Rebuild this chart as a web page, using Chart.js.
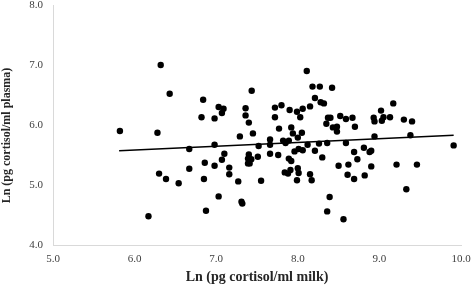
<!DOCTYPE html>
<html>
<head>
<meta charset="utf-8">
<script src="https://cdn.jsdelivr.net/npm/chart.js@4.4.1/dist/chart.umd.min.js"></script>
<style>
  html, body { margin: 0; padding: 0; background: #fff; }
  #wrap { width: 471px; height: 290px; }
</style>
</head>
<body>
<div id="wrap"><canvas id="chart" width="471" height="290"></canvas></div>
<script>
// ln cortisol in milk (x) vs plasma (y)
const milkX = [
  6.32, 6.43, 5.82, 6.28, 6.30, 6.385, 6.17,
  7.435, 6.84, 7.03, 7.09, 7.07, 6.82, 6.98, 7.36, 7.36, 7.40, 7.29, 7.45,
  6.98, 6.67, 7.10, 7.07, 6.86, 6.98, 7.16, 7.16, 6.67, 7.40, 7.39, 7.43, 7.39, 7.41,
  6.54, 6.85, 7.27, 7.03, 7.31, 7.32, 6.875,
  8.11, 8.18, 8.27, 8.42, 8.21, 8.28, 8.32, 8.15, 7.72, 7.80, 7.90, 7.99, 8.06,
  8.03, 7.72, 8.37, 8.40, 8.35, 8.52, 7.77, 7.92, 7.94, 8.05, 8.00, 8.43, 8.48, 8.48,
  7.66, 7.82, 7.85, 7.89, 7.52, 7.66, 8.12, 8.26, 8.36, 8.01, 8.06, 7.96, 8.21,
  7.51, 7.66, 7.76, 7.89, 7.92, 8.30, 8.50, 7.84, 7.88, 7.91, 8.00, 8.01, 8.15,
  7.55, 7.99, 8.17, 8.39, 8.36,
  9.17, 9.02, 8.59, 8.67, 8.93, 8.94, 9.05, 9.03, 9.13, 9.30, 9.40, 8.70, 8.94, 9.38,
  8.59, 8.81, 8.88, 8.90, 8.69, 8.73, 8.62, 8.90, 9.21, 9.46, 8.61, 8.69, 8.82, 9.33, 8.56,
  9.91
];
const plasmaY = [
  7.00, 6.52, 5.90, 5.87, 5.19, 5.10, 4.48,
  6.57, 6.42, 6.30, 6.27, 6.20, 6.13, 6.11, 6.28, 6.16, 6.04, 5.81, 5.86,
  5.67, 5.60, 5.52, 5.42, 5.37, 5.32, 5.29, 5.18, 5.27, 5.51, 5.44, 5.43, 5.36, 5.36,
  5.03, 5.10, 5.06, 4.81, 4.72, 4.69, 4.57,
  6.90, 6.64, 6.64, 6.62, 6.45, 6.38, 6.36, 6.31, 6.29, 6.33, 6.25, 6.22, 6.27,
  6.13, 6.13, 6.12, 6.12, 6.02, 6.15, 5.94, 5.96, 5.86, 5.87, 5.79, 5.96, 5.97, 5.89,
  5.76, 5.74, 5.70, 5.74, 5.65, 5.67, 5.67, 5.69, 5.70, 5.60, 5.58, 5.56, 5.57,
  5.47, 5.52, 5.50, 5.44, 5.40, 5.46, 5.32, 5.21, 5.19, 5.25, 5.28, 5.20, 5.18,
  5.07, 5.08, 5.08, 4.80, 4.56,
  6.36, 6.24, 6.10, 6.12, 6.12, 6.06, 6.13, 6.07, 6.13, 6.09, 6.06, 5.97, 5.81, 5.83,
  5.70, 5.62, 5.55, 5.57, 5.55, 5.43, 5.34, 5.31, 5.34, 5.34, 5.17, 5.10, 5.16, 4.93, 4.43,
  5.66
];
// trend line ends as drawn in the figure
const trendX = [5.81, 9.91];
const trendY = [5.57, 5.83];

const xTitle = "Ln (pg cortisol/ml milk)";
// trailing spaces nudge the rotated title a bit lower, like the original
const yTitle = "Ln (pg cortisol/ml plasma)       ";

const pts = milkX.map((x, i) => ({ x: x, y: plasmaY[i] }));
const trend = trendX.map((x, i) => ({ x: x, y: trendY[i] }));

const serif = "'Liberation Serif', 'Times New Roman', serif";

new Chart(document.getElementById("chart"), {
  type: "scatter",
  data: {
    datasets: [
      {
        data: pts,
        pointRadius: 3.2,
        pointBackgroundColor: "#000",
        pointBorderWidth: 0,
      },
      {
        type: "line",
        data: trend,
        borderColor: "#000",
        borderWidth: 1.4,
        pointRadius: 0,
        fill: false,
      },
    ],
  },
  options: {
    responsive: false,
    animation: false,
    layout: { padding: { top: 5, right: 10, left: 0, bottom: 0 } },
    plugins: { legend: { display: false }, tooltip: { enabled: false } },
    scales: {
      x: {
        type: "linear",
        min: 5,
        max: 10,
        afterFit: (s) => {
          s.height = 45;
          s.paddingLeft = 0;
          s.paddingRight = 0;
        },
        grid: { display: false, drawTicks: false },
        border: { display: true, color: "#d9d9d9", width: 1 },
        ticks: {
          stepSize: 1,
          padding: 8,
          color: "#404040",
          font: { family: serif, size: 11 },
          callback: (v) => v.toFixed(1),
        },
        title: {
          display: true,
          text: xTitle,
          color: "#262626",
          font: { family: serif, size: 14, weight: "bold" },
          padding: { top: 0, bottom: 4 },
        },
      },
      y: {
        min: 4,
        max: 8,
        afterFit: (s) => {
          s.width = 53;
          s.paddingTop = 0;
          s.paddingBottom = 0;
        },
        grid: { display: false, drawTicks: false },
        border: { display: true, color: "#d9d9d9", width: 1 },
        ticks: {
          stepSize: 1,
          padding: 10,
          color: "#404040",
          font: { family: serif, size: 11 },
          callback: (v) => v.toFixed(1),
        },
        title: {
          display: true,
          text: yTitle,
          color: "#262626",
          font: { family: serif, size: 12, weight: "bold" },
          padding: { top: 0, bottom: 0 },
        },
      },
    },
  },
});
</script>
</body>
</html>
